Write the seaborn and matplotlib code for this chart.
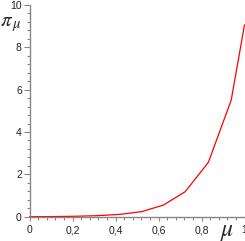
import numpy as np
import matplotlib
matplotlib.use('Agg')
import matplotlib.pyplot as plt
import seaborn as sns
import pandas as pd

# curve nodes
mu = [0.0, 0.11, 0.21, 0.32, 0.42, 0.522, 0.623, 0.724, 0.832, 0.938, 1.0]
pi_mu = [0.0, 0.005, 0.02, 0.05, 0.11, 0.24, 0.55, 1.18, 2.57, 5.5, 9.06]

x_ticks = [0, 0.2, 0.4, 0.6, 0.8, 1]
x_labels = ["0", "0,2", "0,4", "0,6", "0,8", "1"]
y_ticks = [0, 2, 4, 6, 8, 10]
y_labels = ["0", "2", "4", "6", "8", "10"]

sns.set_style("ticks")
plt.rcParams['font.family'] = ['Liberation Sans', 'DejaVu Sans']
plt.rcParams['mathtext.fontset'] = 'stix'

df = pd.DataFrame({'mu': mu, 'pi': pi_mu})

fig = plt.figure(figsize=(2.45, 2.41), dpi=100)
ax = fig.add_axes([29.5 / 245, 24.3 / 241, 215 / 245, 211.7 / 241])
sns.lineplot(data=df, x='mu', y='pi', ax=ax, color='#ff0000', linewidth=0.9, clip_on=False)

ax.set_xlim(0, 1)
ax.set_ylim(0, 10)
ax.set_xticks(x_ticks)
ax.set_xticklabels(x_labels)
ax.set_yticks(y_ticks)
ax.set_yticklabels(y_labels)
ax.set_xticks(np.arange(0, 1.0001, 0.04), minor=True)
ax.set_yticks(np.arange(0, 10.001, 0.4), minor=True)
ax.set_xlabel('')
ax.set_ylabel('')

axis_col = '#888888'
for side in ['top', 'right']:
    ax.spines[side].set_visible(False)
for side in ['left', 'bottom']:
    ax.spines[side].set_color(axis_col)
    ax.spines[side].set_linewidth(1.0)
ax.tick_params(which='major', length=4, width=0.8, color=axis_col,
               labelsize=7.5, labelcolor='#222222', pad=1.5)
ax.tick_params(which='minor', length=2.5, width=0.8, color=axis_col)
ax.tick_params(axis='x', which='major', length=3, pad=3)

fig.text(0 / 245, 1 - 24 / 241, r'$\pi_{\,\mu}$', fontsize=15, ha='left', va='center')
ax.text(0.92, -0.07, r'$\mu$', fontsize=17, transform=ax.transAxes,
        ha='center', va='center')

fig.savefig('out.png', dpi=100)
